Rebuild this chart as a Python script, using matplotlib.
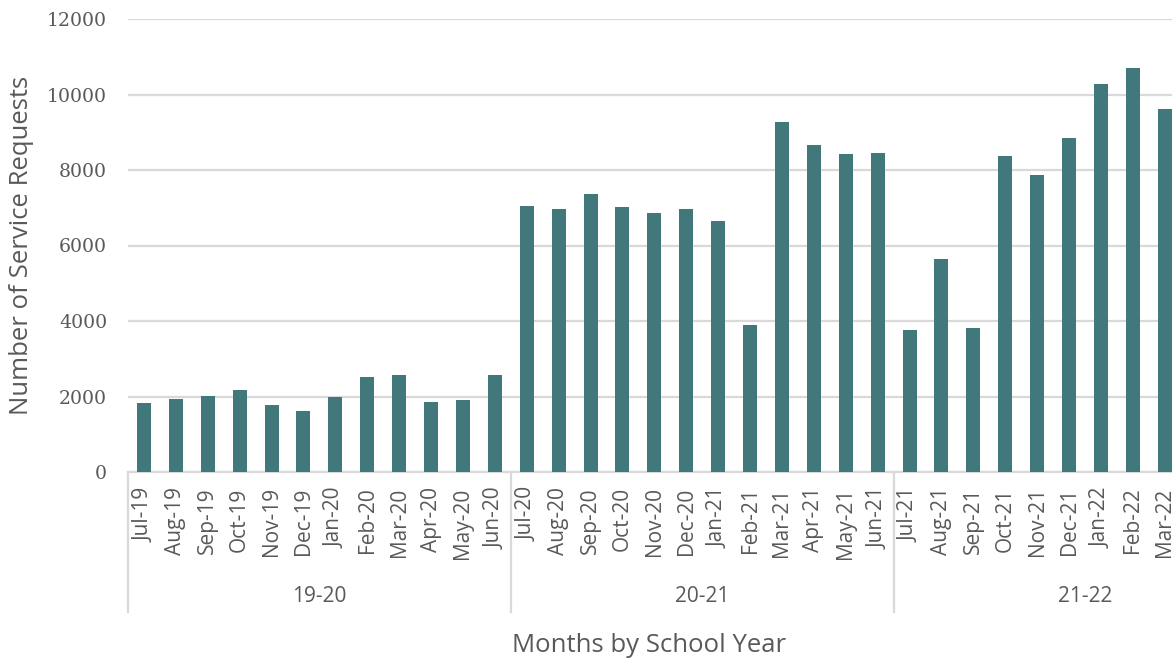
import matplotlib
matplotlib.use("Agg")
import matplotlib.pyplot as plt
import matplotlib.transforms as mtransforms

months = ["Jul-19", "Aug-19", "Sep-19", "Oct-19", "Nov-19", "Dec-19", "Jan-20", "Feb-20",
          "Mar-20", "Apr-20", "May-20", "Jun-20",
          "Jul-20", "Aug-20", "Sep-20", "Oct-20", "Nov-20", "Dec-20", "Jan-21", "Feb-21",
          "Mar-21", "Apr-21", "May-21", "Jun-21",
          "Jul-21", "Aug-21", "Sep-21", "Oct-21", "Nov-21", "Dec-21", "Jan-22", "Feb-22",
          "Mar-22"]
requests = [1820, 1930, 2010, 2170, 1775, 1605, 1985, 2505, 2570, 1855, 1905, 2580,
            7045, 6975, 7365, 7025, 6855, 6955, 6660, 3905, 9260, 8655, 8425, 8460,
            3770, 5630, 3825, 8380, 7870, 8850, 10270, 10710, 9610]
school_years = ["19-20", "20-21", "21-22"]
group_sizes = [12, 12, 12]

bar_color = "#41787b"
grid_color = "#d9d9d9"
text_color = "#595959"

plt.rcParams["font.family"] = ["Open Sans", "DejaVu Sans"]

fig = plt.figure(figsize=(11.72, 6.61), dpi=100)
W, H = 1172, 661
left_px, bottom_px, top_px = 128, 472, 19
ax = fig.add_axes([left_px / W, 1 - bottom_px / H, 1 - left_px / W, (bottom_px - top_px) / H])

x = list(range(len(months)))
ax.bar(x, requests, width=0.44, color=bar_color, zorder=3)

ax.set_ylim(0, 12000)
ax.set_yticks(range(0, 12001, 2000))
ax.set_xlim(-0.5, -0.5 + (W - left_px) / 31.9)
ax.grid(axis="y", color=grid_color, linewidth=1.6, zorder=0)
for s in ["top", "right", "left"]:
    ax.spines[s].set_visible(False)
ax.spines["bottom"].set_color(grid_color)
ax.spines["bottom"].set_linewidth(1.6)

ax.tick_params(axis="y", length=0, pad=15, labelsize=13.6, labelcolor=text_color)
ax.tick_params(axis="x", length=0, pad=11, labelsize=15, labelcolor=text_color)
ax.set_xticks(x)
ax.set_xticklabels(months, rotation=90)
for lab in ax.get_yticklabels():
    lab.set_fontfamily("DejaVu Serif")

trans = mtransforms.blended_transform_factory(ax.transData, ax.transAxes)
line_bottom = (bottom_px - 612) / (bottom_px - top_px)
label_y = (bottom_px - 597) / (bottom_px - top_px)
start = -0.5
for name, n in zip(school_years, group_sizes):
    ax.plot([start, start], [0, line_bottom], transform=trans, color=grid_color,
            linewidth=1.6, clip_on=False)
    ax.text(start + n / 2, label_y, name, transform=trans, ha="center", va="center",
            fontsize=15, color=text_color)
    start += n

fig.text(649 / W, 1 - 645 / H, "Months by School Year", ha="center", va="center",
         fontsize=18.5, color=text_color)
fig.text(22 / W, 1 - 245 / H, "Number of Service Requests", ha="center", va="center",
         rotation=90, fontsize=18.5, color=text_color)

fig.savefig("out.png", dpi=100)
